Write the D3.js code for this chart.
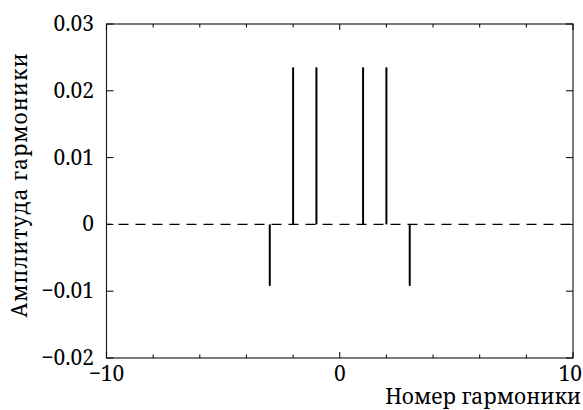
<!DOCTYPE html>
<html>
<head>
<meta charset="utf-8">
<script src="https://cdn.jsdelivr.net/npm/d3@7"></script>
<style>
  html, body { margin: 0; padding: 0; background: #fff; }
</style>
</head>
<body>
<svg id="chart" width="583" height="410"></svg>
<script>
// Harmonic numbers and their amplitudes
const harmonics = [-3, -2, -1, 1, 2, 3];
const amplitudes = [-0.0092, 0.0235, 0.0235, 0.0235, 0.0235, -0.0092];

// Axis ticks
const xMajorTicks = [-10, 0, 10];
const xMinorTicks = [-8, -6, -4, -2, 2, 4, 6, 8];
const yTicks = [-0.02, -0.01, 0, 0.01, 0.02, 0.03];
const xTickLabels = ["\u221210", "0", "10"];
const yTickLabels = ["\u22120.02", "\u22120.01", "0", "0.01", "0.02", "0.03"];

const xTitle = "Номер гармоники";
const yTitle = "Амплитуда гармоники";

const FONT = "'Noto Serif', 'DejaVu Serif', serif";
const margin = { left: 106.5, right: 10, top: 24, bottom: 52 };
const W = 583, H = 410;

const svg = d3.select("#chart");
const x = d3.scaleLinear().domain([-10, 10]).range([margin.left, W - margin.right]);
const y = d3.scaleLinear().domain([-0.02, 0.03]).range([H - margin.bottom, margin.top]);

const x0 = x.range()[0], x1 = x.range()[1];
const y0 = y.range()[0], y1 = y.range()[1];

// Dashed zero line
svg.append("line")
  .attr("x1", x0).attr("x2", x1)
  .attr("y1", y(0)).attr("y2", y(0))
  .attr("stroke", "#000").attr("stroke-width", 1.2)
  .attr("stroke-dasharray", "10,7").attr("stroke-dashoffset", 5);

// Stems
svg.append("g").selectAll("line")
  .data(harmonics.map((h, i) => ({ h, a: amplitudes[i] })))
  .join("line")
  .attr("x1", d => x(d.h)).attr("x2", d => x(d.h))
  .attr("y1", y(0)).attr("y2", d => y(d.a))
  .attr("stroke", "#000").attr("stroke-width", 2);

// Frame
svg.append("rect")
  .attr("x", x0).attr("y", y1)
  .attr("width", x1 - x0).attr("height", y0 - y1)
  .attr("fill", "none").attr("stroke", "#222").attr("stroke-width", 1.2);

// Inward ticks on all four sides
const tickG = svg.append("g").attr("stroke", "#000").attr("stroke-width", 1);
function vTicks(vals, len) {
  vals.forEach(v => {
    tickG.append("line").attr("x1", x(v)).attr("x2", x(v)).attr("y1", y0).attr("y2", y0 - len);
    tickG.append("line").attr("x1", x(v)).attr("x2", x(v)).attr("y1", y1).attr("y2", y1 + len);
  });
}
vTicks(xMajorTicks, 6);
vTicks(xMinorTicks, 3.5);
yTicks.forEach(v => {
  tickG.append("line").attr("x1", x0).attr("x2", x0 + 7).attr("y1", y(v)).attr("y2", y(v));
  tickG.append("line").attr("x1", x1).attr("x2", x1 - 7).attr("y1", y(v)).attr("y2", y(v));
});

// Tick labels
const fs = 21;
svg.append("g").selectAll("text")
  .data(xMajorTicks)
  .join("text")
  .attr("font-family", FONT)
  .attr("x", (d, i) => i === xMajorTicks.length - 1 ? W - 1 : x(d))
  .attr("y", y0 + 23)
  .attr("text-anchor", (d, i) => i === xMajorTicks.length - 1 ? "end" : "middle")
  .attr("font-size", fs)
  .text((d, i) => xTickLabels[i]);

svg.append("g").selectAll("text")
  .data(yTicks)
  .join("text")
  .attr("font-family", FONT)
  .attr("x", x0 - 12.5).attr("y", d => y(d) + 7)
  .attr("text-anchor", "end").attr("font-size", fs)
  .text((d, i) => yTickLabels[i]);

// Axis titles
svg.append("text")
  .attr("font-family", FONT)
  .attr("x", 581).attr("y", 404)
  .attr("text-anchor", "end").attr("font-size", fs)
  .text(xTitle);

svg.append("text")
  .attr("font-family", FONT)
  .attr("transform", `translate(27,185) rotate(-90)`)
  .attr("text-anchor", "middle").attr("font-size", fs)
  .attr("letter-spacing", 1)
  .text(yTitle);
</script>
</body>
</html>
